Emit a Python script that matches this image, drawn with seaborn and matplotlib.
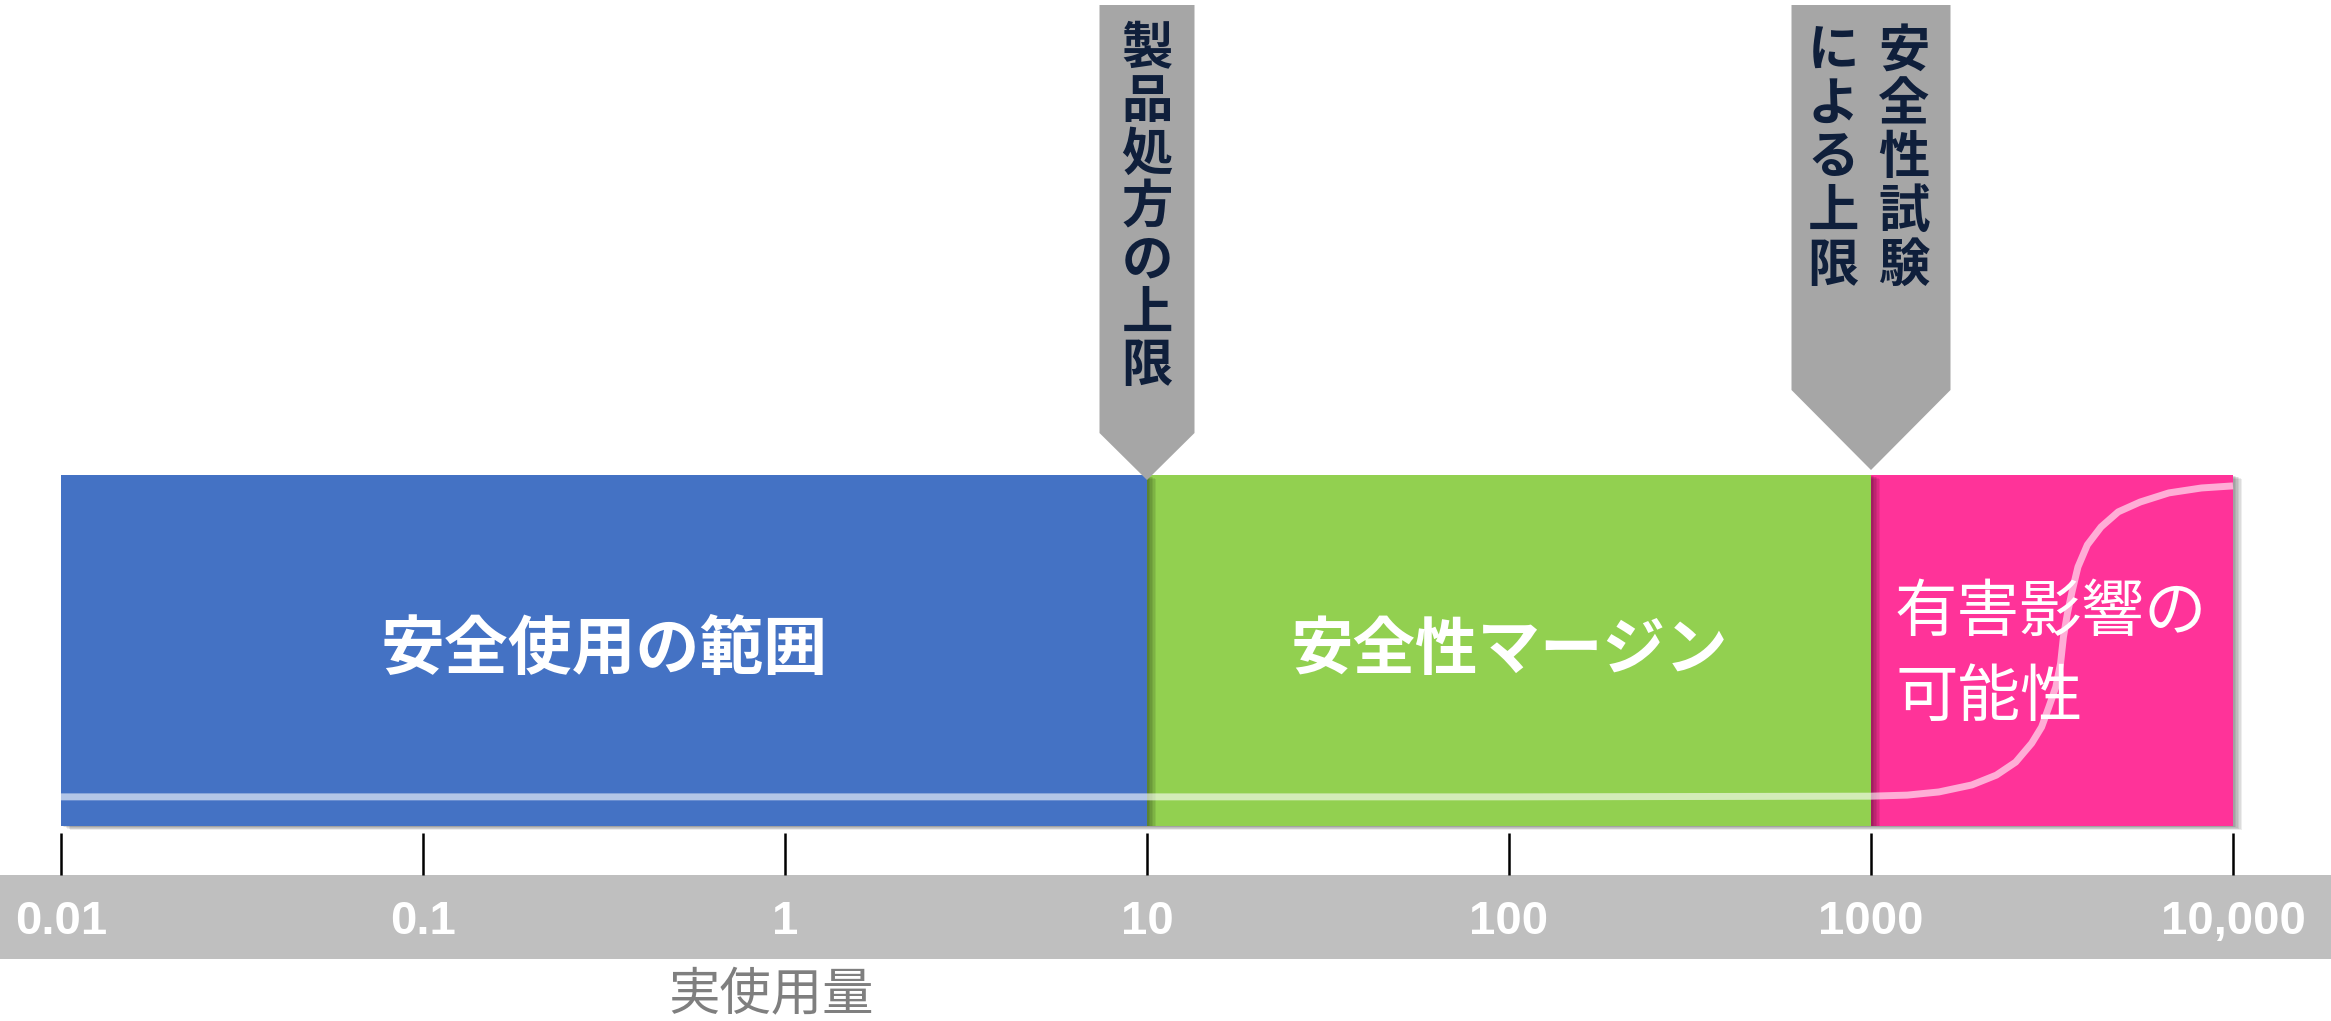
import numpy as np
import pandas as pd
import matplotlib
matplotlib.use("Agg")
import matplotlib.pyplot as plt
import matplotlib.transforms as mtransforms
from matplotlib import patheffects as pe
from matplotlib.patches import Polygon, Rectangle
from matplotlib.ticker import NullLocator
import seaborn as sns

# ---------------- data ----------------
zone_names = ["安全使用の範囲", "安全性マージン", "有害影響の\n可能性"]
zone_start = [0.01, 10, 1000]
zone_end = [10, 1000, 10000]
zone_colors = ["#4472C4", "#92D050", "#FF3399"]

limit_values = [10, 1000]
limit_columns = [["製品処方の上限"], ["安全性試験", "による上限"]]

tick_values = [0.01, 0.1, 1, 10, 100, 1000, 10000]
tick_labels = ["0.01", "0.1", "1", "10", "100", "1000", "10,000"]
x_label = "実使用量"

curve_x = [0.01, 0.1, 1, 10, 100, 1000, 1260, 1540, 1900, 2220, 2510, 2780,
           2960, 3100, 3240, 3340, 3400, 3490, 3600, 3730, 3960, 4320, 4820,
           5540, 6650, 8180, 10000]
curve_y = [0.083, 0.083, 0.083, 0.083, 0.083, 0.085, 0.088, 0.097, 0.117,
           0.145, 0.182, 0.236, 0.282, 0.339, 0.396, 0.464, 0.538, 0.607,
           0.672, 0.738, 0.801, 0.852, 0.895, 0.923, 0.949, 0.963, 0.969]

# ---------------- style ----------------
sns.set_style("white")
plt.rcParams["font.family"] = ["Noto Sans CJK JP", "DejaVu Sans"]

W, H, DPI = 2331, 1021, 100
fig = plt.figure(figsize=(W / DPI, H / DPI), dpi=DPI)
fig.patch.set_facecolor("white")

axis_px = 875            # y pixel (from top) of the axis line
ax = fig.add_axes([0, (H - axis_px) / H, 1, axis_px / H])
ax.patch.set_alpha(0)

px_per_decade = 362.0
x0_px = 61.0             # pixel of the first tick value
l0 = np.log10(tick_values[0])
ax.set_xscale("log")
ax.set_xlim(10 ** (l0 - x0_px / px_per_decade),
            10 ** (l0 + (W - x0_px) / px_per_decade))

box_top_px, box_bot_px = 475, 826
unit = box_bot_px - box_top_px
ax.set_ylim(-(axis_px - box_bot_px) / unit, box_bot_px / unit)

for s in ax.spines.values():
    s.set_visible(False)
ax.set_yticks([])

# grey band under the axis (drawn beneath the axes and its tick labels)
band_top, band_bot = 875, 959
fig.patches.append(Rectangle((0, (H - band_bot) / H), 1, (band_bot - band_top) / H,
                             transform=fig.transFigure, facecolor="#BFBFBF",
                             edgecolor="none", zorder=-5))

# ---------------- zones ----------------
shadow = [pe.SimplePatchShadow(offset=(k * 1.1, -k * 0.45), shadow_rgbFace="black",
                               alpha=0.07) for k in range(1, 7)] + [pe.Normal()]
n = len(zone_names)
for i in reversed(range(n)):
    bars = ax.barh(0.5, zone_end[i] - zone_start[i], left=zone_start[i], height=1.0,
                   color=zone_colors[i], edgecolor="none", zorder=1 + (n - i))
    for b in bars:
        b.set_path_effects(shadow)

# curve
df = pd.DataFrame({"x": curve_x, "y": curve_y})
sns.lineplot(data=df, x="x", y="y", ax=ax, color="white", alpha=0.6,
             linewidth=5.0, zorder=10, solid_capstyle="butt",
             solid_joinstyle="round")
ax.set_ylabel("")

# zone labels
label_sizes = [46, 45]
for i in range(2):
    xc = np.sqrt(zone_start[i] * zone_end[i])
    ax.text(xc, 0.5, zone_names[i], color="white", fontsize=label_sizes[i],
            fontweight="bold", ha="center", va="center", zorder=12)
pink_tr = mtransforms.offset_copy(ax.transData, fig=fig, x=24, y=0, units="dots")
ax.text(zone_start[2], 0.485, zone_names[2], color="white", fontsize=45,
        ha="left", va="center", linespacing=1.42, transform=pink_tr, zorder=12)

# ---------------- limit callouts ----------------
arrow_specs = [
    dict(half=47.5, shoulder=47, top=475, tip_dy=-5, cols=[0], pitch=52.8, first=455 - 24),
    dict(half=79.5, shoulder=80, top=465, tip_dy=5, cols=[33, -38], pitch=53.5, first=443 - 24),
]
for val, cols, sp in zip(limit_values, limit_columns, arrow_specs):
    tr = fig.dpi_scale_trans + mtransforms.ScaledTranslation(val, 1.0, ax.transData)
    hw, sh, tp, dy = sp["half"], sp["shoulder"], sp["top"], sp["tip_dy"]
    verts = np.array([(-hw, sh), (-hw, tp), (hw, tp), (hw, sh), (0, 0)], float)
    verts[:, 1] += dy
    ax.add_patch(Polygon(verts / DPI, closed=True, transform=tr, facecolor="#A6A6A6",
                         edgecolor="none", zorder=20))
    for col_text, cx in zip(cols, sp["cols"]):
        for j, ch in enumerate(col_text):
            ax.text(cx / DPI, (dy + sp["first"] - j * sp["pitch"]) / DPI, ch,
                    transform=tr, ha="center", va="center", fontsize=37,
                    fontweight="bold", color="#0F1F3B", zorder=21)

# ---------------- x axis ----------------
ax.set_xticks(tick_values)
ax.set_xticklabels(tick_labels)
ax.xaxis.set_minor_locator(NullLocator())
ax.tick_params(axis="x", which="major", direction="in", length=30, width=1.8,
               color="black", labelcolor="white", labelsize=34, pad=18, bottom=True)
for lab in ax.get_xticklabels():
    lab.set_fontfamily(["Liberation Sans", "DejaVu Sans"])
    lab.set_fontweight("bold")

ax.set_xlabel(x_label, color="#7F7F7F", fontsize=37)
ax.xaxis.set_label_coords(771 / W, (axis_px - 996) / axis_px)
ax.xaxis.label.set_verticalalignment("center")

fig.savefig("out.png", dpi=DPI, facecolor="white")
